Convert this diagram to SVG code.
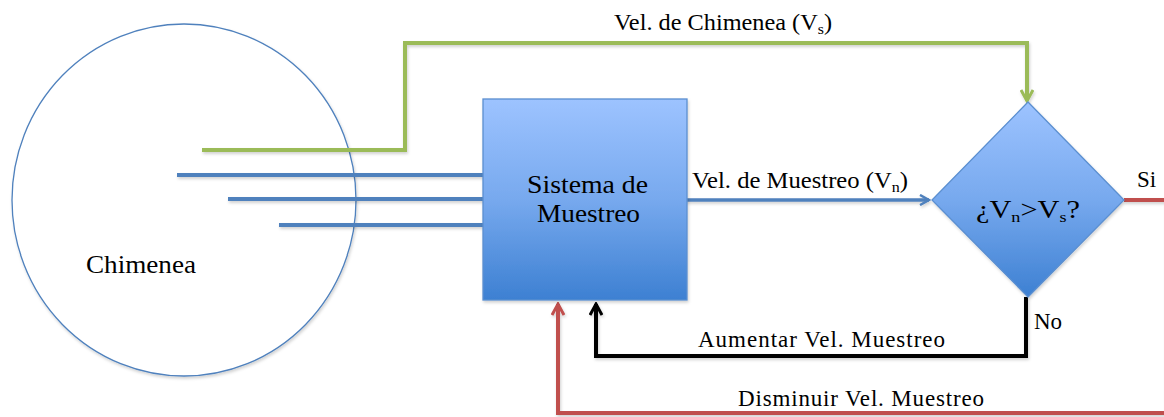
<svg xmlns="http://www.w3.org/2000/svg" width="1164" height="417" viewBox="0 0 1164 417">
<defs>
<linearGradient id="blueGrad" x1="0" y1="0" x2="0" y2="1">
<stop offset="0" stop-color="#9dc3ff"/>
<stop offset="0.5" stop-color="#77a9ee"/>
<stop offset="1" stop-color="#3d80d2"/>
</linearGradient>
<filter id="sh" x="-5%" y="-5%" width="110%" height="120%">
<feDropShadow dx="1" dy="2" stdDeviation="1.5" flood-color="#000" flood-opacity="0.18"/>
</filter>
<marker id="arrBlue" viewBox="0 0 12 12" refX="10" refY="6" markerWidth="12" markerHeight="12" markerUnits="userSpaceOnUse" orient="auto">
<path d="M1,1 L10,6 L1,11" fill="none" stroke="#4f81bd" stroke-width="2.5"/>
</marker>
<marker id="arrGreen" viewBox="0 0 14 14" refX="12" refY="7" markerWidth="14" markerHeight="14" markerUnits="userSpaceOnUse" orient="auto">
<path d="M1,1 L12,7 L1,13" fill="none" stroke="#9bbb59" stroke-width="3"/>
</marker>
<marker id="arrBlack" viewBox="0 0 14 14" refX="12" refY="7" markerWidth="14" markerHeight="14" markerUnits="userSpaceOnUse" orient="auto">
<path d="M1,1 L12,7 L1,13" fill="none" stroke="#000" stroke-width="3"/>
</marker>
<marker id="arrRed" viewBox="0 0 14 14" refX="12" refY="7" markerWidth="14" markerHeight="14" markerUnits="userSpaceOnUse" orient="auto">
<path d="M1,1 L12,7 L1,13" fill="none" stroke="#c0504d" stroke-width="3"/>
</marker>
</defs>
<style>
text { font-family: "Liberation Serif", "DejaVu Serif", serif; fill: #000; }
.lbl { font-size: 23px; }
.big { font-size: 25px; }
.sub { font-size: 15px; }
.conn { fill: none; stroke-linejoin: miter; }
</style>

<g id="chimenea">
<ellipse cx="184" cy="200" rx="172" ry="176" fill="#fff" stroke="#4f81bd" stroke-width="1.3" filter="url(#sh)"/>
<text x="86" y="273" font-size="25" textLength="110" lengthAdjust="spacingAndGlyphs">Chimenea</text>
</g>

<g id="connectors" filter="url(#sh)">
<path class="conn" d="M177,175 H484" stroke="#4f81bd" stroke-width="4"/>
<path class="conn" d="M228,199 H484" stroke="#4f81bd" stroke-width="4"/>
<path class="conn" d="M279,225 H484" stroke="#4f81bd" stroke-width="4"/>
<path class="conn" d="M202,150 H405 V43 H1027 V101" stroke="#9bbb59" stroke-width="4" marker-end="url(#arrGreen)"/>
<path class="conn" d="M677,200 H929" stroke="#4f81bd" stroke-width="3.5" marker-end="url(#arrBlue)"/>
<path class="conn" d="M1026,297 V356 H596 V304" stroke="#000" stroke-width="4" marker-end="url(#arrBlack)"/>
<path class="conn" d="M1124,200 H1167 V413 H558 V304" stroke="#c0504d" stroke-width="4" marker-end="url(#arrRed)"/>
</g>

<g id="sistema">
<rect x="483" y="99" width="204" height="201" fill="url(#blueGrad)" stroke="#5b8fd0" stroke-width="1.3" filter="url(#sh)"/>
<text x="587.5" y="193" class="big" text-anchor="middle" textLength="121" lengthAdjust="spacingAndGlyphs">Sistema de</text>
<text x="588.5" y="222" class="big" text-anchor="middle" textLength="103" lengthAdjust="spacingAndGlyphs">Muestreo</text>
</g>

<g id="decision">
<polygon points="1028,102 1124,200 1028,297 932,200" fill="url(#blueGrad)" stroke="#5b8fd0" stroke-width="1.3" filter="url(#sh)"/>
<text x="976" y="218" class="big" textLength="104" lengthAdjust="spacingAndGlyphs">¿V<tspan class="sub" dy="4">n</tspan><tspan dy="-4">&gt;V</tspan><tspan class="sub" dy="4">s</tspan><tspan dy="-4">?</tspan></text>
</g>

<g id="labels">
<text x="614" y="30" class="lbl" textLength="218" lengthAdjust="spacingAndGlyphs">Vel. de Chimenea (V<tspan class="sub" dy="4">s</tspan><tspan dy="-4">)</tspan></text>
<text x="692" y="188" class="lbl" textLength="216" lengthAdjust="spacingAndGlyphs">Vel. de Muestreo (V<tspan class="sub" dy="4">n</tspan><tspan dy="-4">)</tspan></text>
<text x="1137" y="187" class="lbl">Si</text>
<text x="1034" y="329" class="lbl">No</text>
<text x="698" y="347" class="lbl" textLength="247" lengthAdjust="spacing">Aumentar Vel. Muestreo</text>
<text x="738" y="406" class="lbl" textLength="246" lengthAdjust="spacing">Disminuir Vel. Muestreo</text>
</g>
</svg>
